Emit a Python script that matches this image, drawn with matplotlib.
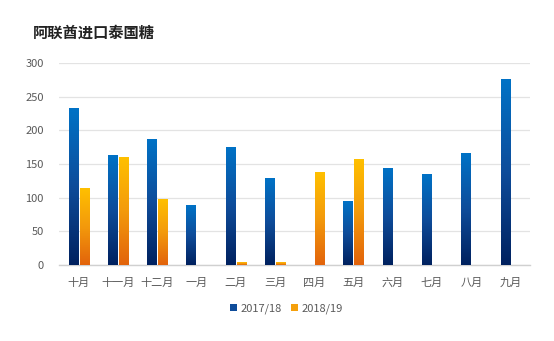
import numpy as np
import matplotlib.pyplot as plt
from matplotlib.colors import LinearSegmentedColormap
from matplotlib.patches import Patch

plt.rcParams['font.family'] = ['Noto Sans CJK SC', 'DejaVu Sans']

# Data
months = ['十月', '十一月', '十二月', '一月', '二月', '三月', '四月', '五月', '六月', '七月', '八月', '九月']
season_1718 = [232, 162, 186, 88, 175, 128, 0, 95, 143, 134, 165, 276]
season_1819 = [114, 160, 98, 0, 3, 3, 137, 157, 0, 0, 0, 0]
series_names = ['2017/18', '2018/19']

blue_cmap = LinearSegmentedColormap.from_list('blue_grad', ['#00215F', '#0E4C9A', '#0072C6'])
orange_cmap = LinearSegmentedColormap.from_list('orange_grad', ['#E2630B', '#F39A0C', '#FFC000'])
grad = np.linspace(0, 1, 256).reshape(-1, 1)


def gradient_bar(ax, x0, width, height, cmap):
    if height <= 0:
        return
    ax.imshow(grad, cmap=cmap, origin='lower', aspect='auto',
              extent=[x0, x0 + width, 0, height], zorder=3, interpolation='bilinear')


fig = plt.figure(figsize=(5.54, 3.41), dpi=100)
ax = fig.add_axes([0.1065, 0.223, 0.8505, 0.592])

x = np.arange(len(months))
bar_w = 0.23
gap = 0.05
for i in x:
    gradient_bar(ax, i - gap / 2 - bar_w, bar_w, season_1718[i], blue_cmap)
    gradient_bar(ax, i + gap / 2, bar_w, season_1819[i], orange_cmap)

ax.set_xlim(-0.5, len(months) - 0.5)
ax.set_ylim(0, 300)
ax.set_yticks(np.arange(0, 301, 50))
ax.set_xticks(x)
ax.set_xticklabels(months)
ax.grid(axis='y', color='#E3E3E3', linewidth=0.9, zorder=0)
ax.set_axisbelow(True)
for side in ['left', 'right', 'top']:
    ax.spines[side].set_visible(False)
ax.spines['bottom'].set_color('#D0D0D0')
ax.spines['bottom'].set_linewidth(1.0)
ax.tick_params(axis='both', length=0, colors='#595959', labelsize=8)
ax.tick_params(axis='y', pad=11)
ax.tick_params(axis='x', pad=9)

fig.text(0.06, 0.89, '阿联酋进口泰国糖', fontsize=11, fontweight='bold', color='#222222')

handles = [Patch(facecolor='#0E4C9A', edgecolor='none'),
           Patch(facecolor='#F5A00C', edgecolor='none')]
fig.legend(handles, series_names, loc='center', bbox_to_anchor=(0.517, 0.096),
           ncol=2, frameon=False, fontsize=8, labelcolor='#595959',
           handlelength=0.6, handleheight=0.6, handletextpad=0.3, columnspacing=0.9)

fig.savefig('out.png', dpi=100)
